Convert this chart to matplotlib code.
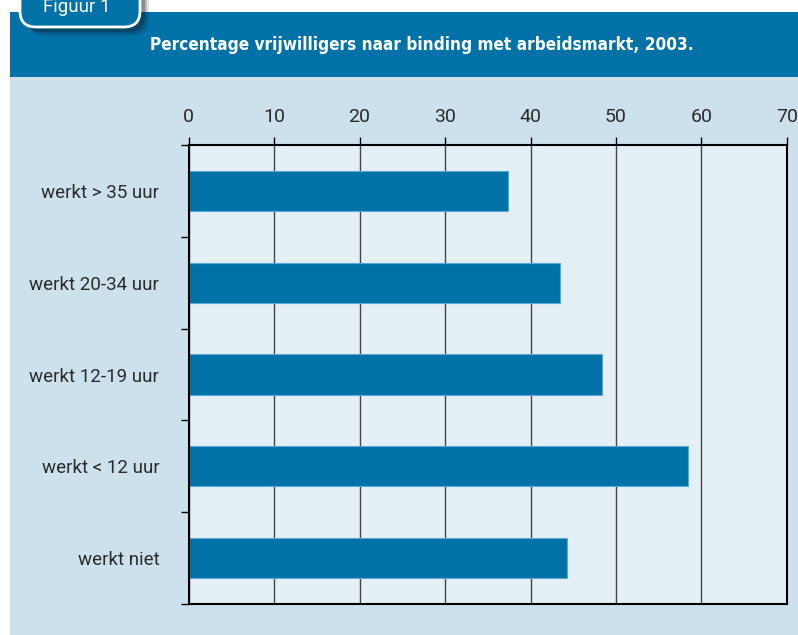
import numpy as np
import matplotlib
matplotlib.use("Agg")
from matplotlib import pyplot as plt
from matplotlib.patches import Rectangle, FancyBboxPatch

categories = ["werkt > 35 uur", "werkt 20-34 uur", "werkt 12-19 uur", "werkt < 12 uur", "werkt niet"]
percentages = [37.4, 43.4, 48.4, 58.4, 44.3]
x_ticks = [0, 10, 20, 30, 40, 50, 60, 70]
title = "Percentage vrijwilligers naar binding met arbeidsmarkt, 2003."
tab_label = "Figuur 1"

DARK_BLUE = "#0072a8"
PANEL = "#cce1ec"
PLOT_BG = "#e4eff6"
TEXT = "#2b2b2b"
LABEL_FONT = ["Roboto", "Liberation Sans", "DejaVu Sans"]

W, H = 798, 635
fig = plt.figure(figsize=(W / 100, H / 100), dpi=100)
fig.patch.set_facecolor("white")


def px(x, y):
    # pixel coords (top-left origin) -> figure fraction
    return x / W, 1 - y / H


# light blue panel and dark header band
x0, y0 = px(10, 635)
fig.patches.append(Rectangle((x0, y0), (W - 10) / W, (635 - 77) / H,
                             transform=fig.transFigure, facecolor=PANEL, edgecolor="none", zorder=-3))
x0, y0 = px(10, 77)
fig.patches.append(Rectangle((x0, y0), (W - 10) / W, 65 / H,
                             transform=fig.transFigure, facecolor=DARK_BLUE, edgecolor="none", zorder=-2))

fig.text(422 / W, 1 - 45 / H, title, ha="center", va="center", color="white",
         fontsize=12.3, fontweight="bold", fontstretch="condensed",
         family=["Liberation Sans Narrow", "DejaVu Sans"])

# "Figuur 1" tab with a soft shadow
for off, a in [(9, 0.12), (7, 0.2), (5, 0.3)]:
    sx, sy = px(20 + off, 27 + off)
    fig.patches.append(FancyBboxPatch((sx, sy), 120 / W, 60 / H,
                                      boxstyle="round,pad=0,rounding_size=0.02",
                                      transform=fig.transFigure, facecolor="#10202a", alpha=a,
                                      edgecolor="none", zorder=2, mutation_aspect=W / H))
tx, ty = px(20, 27)
fig.patches.append(FancyBboxPatch((tx, ty), 120 / W, 60 / H,
                                  boxstyle="round,pad=0,rounding_size=0.02",
                                  transform=fig.transFigure, facecolor=DARK_BLUE,
                                  edgecolor="white", linewidth=2, zorder=3, mutation_aspect=W / H))
fig.text(77 / W, 1 - 7 / H, tab_label, ha="center", va="center", color="white",
         fontsize=13.5, family=LABEL_FONT, zorder=4)

# plot area
ax = fig.add_axes([188.5 / W, 31 / H, 598.5 / W, 459 / H])
ax.set_zorder(5)
ax.set_facecolor(PLOT_BG)
y = np.arange(len(categories))
ax.barh(y, percentages, height=0.44, color=DARK_BLUE, edgecolor="#5aa8d4", linewidth=0.8, zorder=3)

ax.set_xlim(0, 70)
ax.set_ylim(len(categories) - 0.5, -0.5)
ax.set_xticks(x_ticks)
ax.xaxis.tick_top()
ax.tick_params(axis="x", direction="out", length=6, width=1, color="black",
               labelsize=14, labelcolor=TEXT, pad=8)
ax.grid(axis="x", color="#444444", linewidth=1, zorder=1)

ax.set_yticks(y)
ax.set_yticklabels(categories)
ax.set_yticks(np.arange(-0.5, len(categories)), minor=True)
ax.tick_params(axis="y", which="major", length=0, labelsize=13.5, labelcolor=TEXT, pad=21)
ax.tick_params(axis="y", which="minor", direction="out", length=6, width=1, color="black")

for lbl in ax.get_xticklabels() + ax.get_yticklabels():
    lbl.set_family(LABEL_FONT)

for s in ax.spines.values():
    s.set_color("black")
    s.set_linewidth(1.5)
    s.set_zorder(4)

fig.savefig("out.png", dpi=100, facecolor=fig.get_facecolor())
